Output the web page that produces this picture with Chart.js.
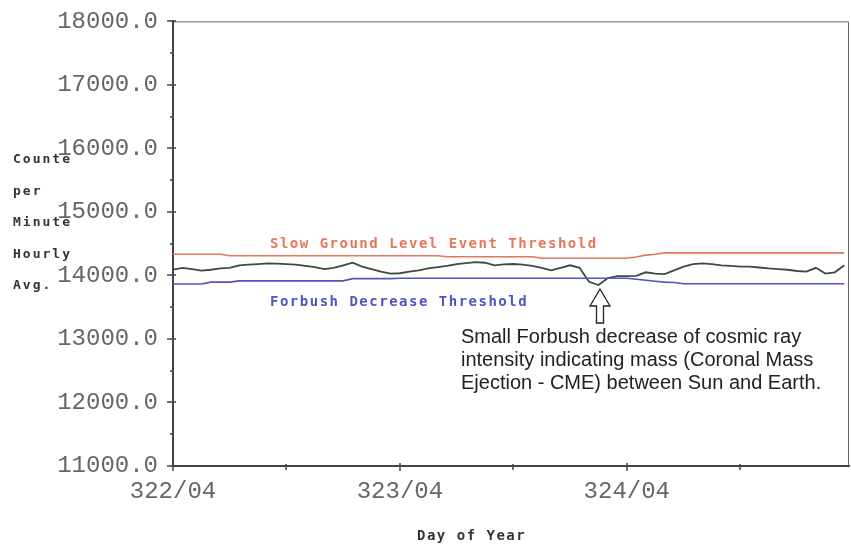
<!DOCTYPE html>
<html>
<head>
<meta charset="utf-8">
<script src="https://cdn.jsdelivr.net/npm/chart.js@4"></script>
<style>
  html, body { margin: 0; padding: 0; background: #fff; }
  #wrap { width: 851px; height: 546px; position: relative; }
</style>
</head>
<body>
<div id="wrap"><canvas id="cosmicChart"></canvas></div>
<script>
// hours since 322/04 00:00
const hours = [0, 1, 2, 3, 4, 5, 6, 7, 8, 9, 10, 11, 12, 13, 14, 15, 16, 17, 18, 19, 20, 21, 22, 23,
  24, 25, 26, 27, 28, 29, 30, 31, 32, 33, 34, 35, 36, 37, 38, 39, 40, 41, 42, 43, 44, 45, 46, 47,
  48, 49, 50, 51, 52, 53, 54, 55, 56, 57, 58, 59, 60, 61, 62, 63, 64, 65, 66, 67, 68, 69, 70, 71];

const countsHourly = [14090, 14120, 14100, 14075, 14090, 14110, 14120, 14160, 14170, 14180, 14190, 14185,
  14180, 14170, 14150, 14130, 14100, 14120, 14160, 14200, 14140, 14100, 14060, 14030,
  14035, 14060, 14080, 14110, 14130, 14150, 14180, 14195, 14210, 14200, 14160, 14175,
  14180, 14170, 14150, 14120, 14080, 14120, 14160, 14120, 13900, 13850, 13960, 13990,
  13990, 13995, 14050, 14030, 14020, 14080, 14140, 14180, 14190, 14180, 14160, 14150,
  14140, 14140, 14125, 14110, 14100, 14090, 14070, 14060, 14120, 14030, 14050, 14160];

const gleThreshold = [14335, 14335, 14335, 14335, 14335, 14335, 14310, 14310, 14310, 14310, 14310, 14310,
  14310, 14310, 14310, 14310, 14310, 14310, 14310, 14310, 14310, 14310, 14310, 14310,
  14310, 14310, 14310, 14310, 14310, 14295, 14295, 14295, 14295, 14295, 14295, 14295,
  14295, 14295, 14295, 14270, 14270, 14270, 14270, 14270, 14270, 14270, 14270, 14270,
  14270, 14290, 14320, 14335, 14355, 14355, 14355, 14355, 14355, 14355, 14355, 14355,
  14355, 14355, 14355, 14355, 14355, 14355, 14355, 14355, 14355, 14355, 14355, 14355];

const forbushThreshold = [13865, 13865, 13865, 13865, 13895, 13895, 13895, 13915, 13915, 13915, 13915, 13915,
  13915, 13915, 13915, 13915, 13915, 13915, 13915, 13950, 13950, 13950, 13950, 13950,
  13955, 13955, 13955, 13955, 13955, 13955, 13955, 13955, 13955, 13955, 13955, 13955,
  13955, 13955, 13955, 13955, 13955, 13955, 13955, 13955, 13955, 13955, 13955, 13955,
  13955, 13940, 13925, 13910, 13895, 13890, 13870, 13870, 13870, 13870, 13870, 13870,
  13870, 13870, 13870, 13870, 13870, 13870, 13870, 13870, 13870, 13870, 13870, 13870];

const dayTicks = [0, 24, 48];
const dayLabels = ['322/04', '323/04', '324/04'];
const halfDayTicks = [12, 36, 60];
const yMinorTicks = [11500, 12500, 13500, 14500, 15500, 16500, 17500];

const yAxisWords = ['Counte', 'per', 'Minute', 'Hourly', 'Avg.'];
const noteLines = [
  'Small Forbush decrease of cosmic ray',
  'intensity indicating mass (Coronal Mass',
  'Ejection - CME) between Sun and Earth.'
];

const monoFont = '"Liberation Mono", "DejaVu Sans Mono", monospace';
const smallFont = '"DejaVu Sans Mono", monospace';
const redColor = '#e6765a';
const blueColor = '#5252c4';
const lineColor = '#3d4a40';

const toPoints = (vals) => hours.map((h, i) => ({ x: h, y: vals[i] }));

// frame, minor ticks, in-plot labels and the arrow note
const extras = {
  id: 'extras',
  afterDraw(chart) {
    const { ctx, chartArea: a, scales: { x, y } } = chart;
    ctx.save();

    // top and right frame
    ctx.strokeStyle = '#666';
    ctx.lineWidth = 1;
    ctx.beginPath();
    ctx.moveTo(a.left, a.top + 0.5);
    ctx.lineTo(a.right - 0.5, a.top + 0.5);
    ctx.lineTo(a.right - 0.5, a.bottom);
    ctx.stroke();

    // ticks
    ctx.strokeStyle = '#444';
    ctx.lineWidth = 1.5;
    ctx.beginPath();
    for (let v = 11000; v <= 18000; v += 1000) {
      const py = Math.round(y.getPixelForValue(v));
      ctx.moveTo(a.left - 6, py); ctx.lineTo(a.left + 3, py);
    }
    yMinorTicks.forEach(v => {
      const py = Math.round(y.getPixelForValue(v));
      ctx.moveTo(a.left - 3, py); ctx.lineTo(a.left + 1, py);
    });
    dayTicks.forEach(v => {
      const px = Math.round(x.getPixelForValue(v));
      ctx.moveTo(px, a.bottom - 3); ctx.lineTo(px, a.bottom + 5);
    });
    halfDayTicks.forEach(v => {
      const px = Math.round(x.getPixelForValue(v));
      ctx.moveTo(px, a.bottom - 2); ctx.lineTo(px, a.bottom + 4);
    });
    ctx.stroke();

    // small stroked-font labels
    ctx.textBaseline = 'alphabetic';
    ctx.textAlign = 'left';
    ctx.letterSpacing = '1.5px';
    ctx.font = 'bold 14px ' + smallFont;
    ctx.fillStyle = redColor;
    ctx.fillText('Slow Ground Level Event Threshold', 270, 248);
    ctx.fillStyle = blueColor;
    ctx.fillText('Forbush Decrease Threshold', 270, 306);

    ctx.fillStyle = '#333';
    ctx.fillText('Day of Year', 417, 540);
    ctx.font = 'bold 13px ' + smallFont;
    ctx.letterSpacing = '2px';
    yAxisWords.forEach((w, i) => ctx.fillText(w, 13, 163 + i * 31.5));
    ctx.letterSpacing = '0px';

    // hollow arrow pointing at the dip
    const ax = 600;
    ctx.strokeStyle = '#222';
    ctx.lineWidth = 1.3;
    ctx.fillStyle = '#fff';
    ctx.beginPath();
    ctx.moveTo(ax, 289);
    ctx.lineTo(ax + 10, 306);
    ctx.lineTo(ax + 3.5, 306);
    ctx.lineTo(ax + 3.5, 323);
    ctx.lineTo(ax - 3.5, 323);
    ctx.lineTo(ax - 3.5, 306);
    ctx.lineTo(ax - 10, 306);
    ctx.closePath();
    ctx.fill();
    ctx.stroke();

    ctx.fillStyle = '#222';
    ctx.font = '20px "Liberation Sans", Arial, sans-serif';
    ctx.textBaseline = 'middle';
    noteLines.forEach((t, i) => ctx.fillText(t, 461, 337 + i * 23));

    ctx.restore();
  }
};

new Chart(document.getElementById('cosmicChart'), {
  type: 'line',
  data: {
    datasets: [
      {
        label: 'Slow Ground Level Event Threshold',
        data: toPoints(gleThreshold),
        borderColor: redColor,
        borderWidth: 1.6,
        pointRadius: 0,
        tension: 0
      },
      {
        label: 'Forbush Decrease Threshold',
        data: toPoints(forbushThreshold),
        borderColor: blueColor,
        borderWidth: 1.6,
        pointRadius: 0,
        tension: 0
      },
      {
        label: 'Counts per Minute Hourly Avg.',
        data: toPoints(countsHourly),
        borderColor: lineColor,
        borderWidth: 1.8,
        pointRadius: 0,
        tension: 0
      }
    ]
  },
  options: {
    responsive: true,
    maintainAspectRatio: false,
    animation: false,
    layout: { padding: { top: 4, right: 2, left: 0, bottom: 0 } },
    scales: {
      x: {
        type: 'linear',
        min: 0,
        max: 71.5,
        afterBuildTicks: (scale) => {
          scale.ticks = dayTicks.map(v => ({ value: v }));
        },
        afterFit: (scale) => { scale.height = 80; },
        grid: { display: false },
        border: { display: true, color: '#444', width: 2 },
        ticks: {
          padding: 3,
          maxRotation: 0,
          autoSkip: false,
          color: '#666',
          font: { family: monoFont, size: 24 },
          callback: (value) => {
            const i = dayTicks.indexOf(value);
            return i >= 0 ? dayLabels[i] : '';
          }
        }
      },
      y: {
        min: 11000,
        max: 18000,
        afterFit: (scale) => { scale.width = 173; },
        grid: { display: false },
        border: { display: true, color: '#444', width: 2 },
        ticks: {
          stepSize: 1000,
          padding: 7,
          color: '#666',
          font: { family: monoFont, size: 24 },
          callback: (value) => value.toFixed(1)
        }
      }
    },
    plugins: {
      legend: { display: false },
      tooltip: { enabled: false }
    }
  },
  plugins: [extras]
});
</script>
</body>
</html>
